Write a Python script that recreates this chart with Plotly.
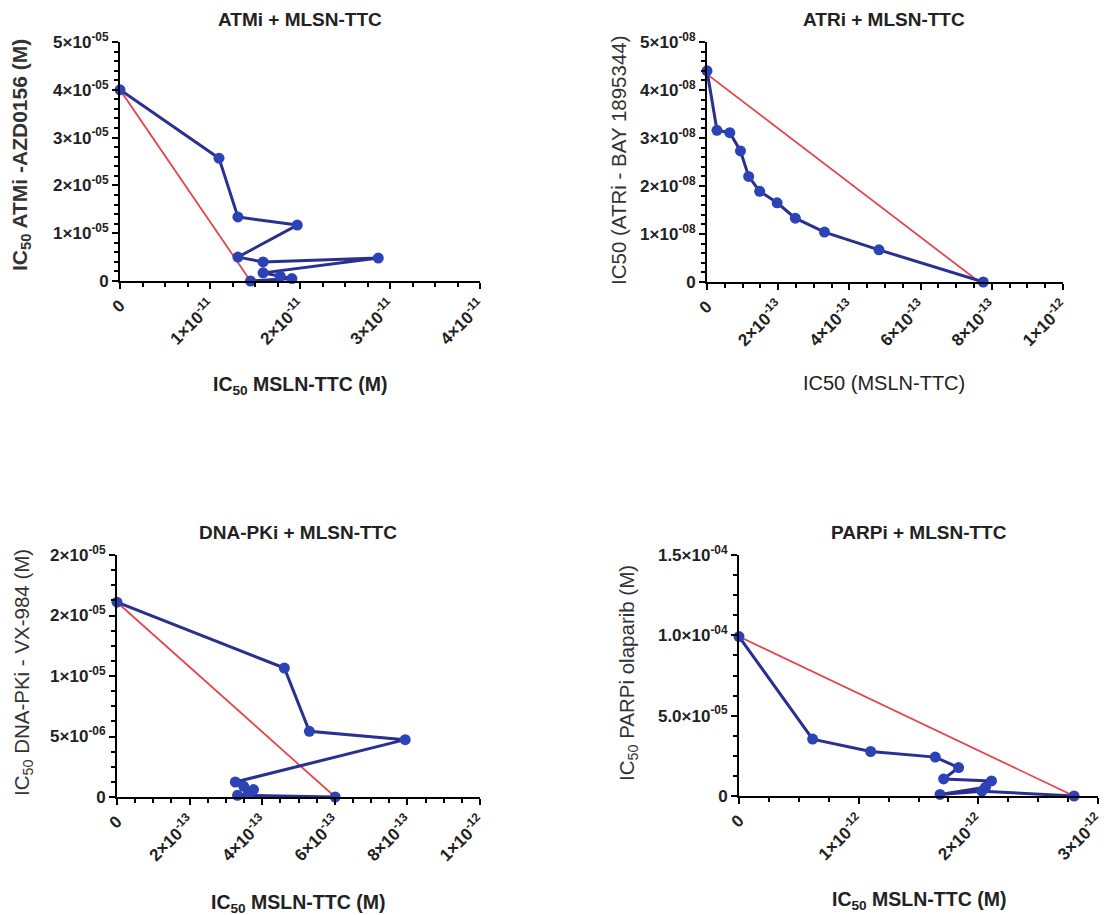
import plotly.graph_objects as go

# page offset (body margin) and figure size so that it fills the 1111x915 window
OFF = 8
W, H = 1111 - OFF, 915 - OFF

# ---------------- data ----------------
atm_x = [0, 1.10e-11, 1.31e-11, 1.97e-11, 1.31e-11, 1.59e-11, 2.87e-11, 1.59e-11, 1.78e-11, 1.91e-11, 1.45e-11]
atm_y = [4.0e-5, 2.57e-5, 1.34e-5, 1.17e-5, 0.50e-5, 0.40e-5, 0.48e-5, 0.17e-5, 0.10e-5, 0.05e-5, 0]
atm_add_x = [0, 1.45e-11]
atm_add_y = [4.0e-5, 0]

atr_x = [0, 0.28e-13, 0.64e-13, 0.94e-13, 1.17e-13, 1.48e-13, 1.97e-13, 2.48e-13, 3.30e-13, 4.83e-13, 7.76e-13]
atr_y = [4.40e-8, 3.16e-8, 3.11e-8, 2.73e-8, 2.20e-8, 1.89e-8, 1.65e-8, 1.33e-8, 1.04e-8, 0.67e-8, 0]
atr_add_x = [0, 7.65e-13]
atr_add_y = [4.33e-8, 0]

dna_x = [0, 4.61e-13, 5.30e-13, 7.94e-13, 3.26e-13, 3.49e-13, 3.76e-13, 3.62e-13, 3.32e-13, 6.01e-13]
dna_y = [1.61e-5, 1.066e-5, 0.543e-5, 0.474e-5, 0.124e-5, 0.088e-5, 0.061e-5, 0.028e-5, 0.014e-5, 0]
dna_add_x = [0, 6.01e-13]
dna_add_y = [1.61e-5, 0]

parp_x = [0, 0.615e-12, 1.10e-12, 1.64e-12, 1.835e-12, 1.71e-12, 2.11e-12, 2.06e-12, 1.68e-12, 2.03e-12, 2.80e-12]
parp_y = [9.92e-5, 3.54e-5, 2.77e-5, 2.42e-5, 1.77e-5, 1.06e-5, 0.94e-5, 0.55e-5, 0.10e-5, 0.30e-5, 0]
parp_add_x = [0, 2.80e-12]
parp_add_y = [9.92e-5, 0]

# tick values / labels
atm_xt = [0, 1e-11, 2e-11, 3e-11, 4e-11]
atm_xl = ["0", "1×10<sup>-11</sup>", "2×10<sup>-11</sup>", "3×10<sup>-11</sup>", "4×10<sup>-11</sup>"]
atm_yt = [0, 1e-5, 2e-5, 3e-5, 4e-5, 5e-5]
atm_yl = ["0", "1×10<sup>-05</sup>", "2×10<sup>-05</sup>", "3×10<sup>-05</sup>", "4×10<sup>-05</sup>", "5×10<sup>-05</sup>"]

atr_xt = [0, 2e-13, 4e-13, 6e-13, 8e-13, 1e-12]
atr_xl = ["0", "2×10<sup>-13</sup>", "4×10<sup>-13</sup>", "6×10<sup>-13</sup>", "8×10<sup>-13</sup>", "1×10<sup>-12</sup>"]
atr_yt = [0, 1e-8, 2e-8, 3e-8, 4e-8, 5e-8]
atr_yl = ["0", "1×10<sup>-08</sup>", "2×10<sup>-08</sup>", "3×10<sup>-08</sup>", "4×10<sup>-08</sup>", "5×10<sup>-08</sup>"]

dna_xt = [0, 2e-13, 4e-13, 6e-13, 8e-13, 1e-12]
dna_xl = ["0", "2×10<sup>-13</sup>", "4×10<sup>-13</sup>", "6×10<sup>-13</sup>", "8×10<sup>-13</sup>", "1×10<sup>-12</sup>"]
dna_yt = [0, 5e-6, 1e-5, 1.5e-5, 2e-5]
dna_yl = ["0", "5×10<sup>-06</sup>", "1×10<sup>-05</sup>", "2×10<sup>-05</sup>", "2×10<sup>-05</sup>"]

parp_xt = [0, 1e-12, 2e-12, 3e-12]
parp_xl = ["0", "1×10<sup>-12</sup>", "2×10<sup>-12</sup>", "3×10<sup>-12</sup>"]
parp_yt = [0, 5e-5, 1e-4, 1.5e-4]
parp_yl = ["0", "5.0×10<sup>-05</sup>", "1.0×10<sup>-04</sup>", "1.5×10<sup>-04</sup>"]

titles = ["ATMi + MLSN-TTC", "ATRi + MLSN-TTC", "DNA-PKi + MLSN-TTC", "PARPi + MLSN-TTC"]
xtitles = ["<b>IC<sub>50</sub> MSLN-TTC (M)</b>", "IC50 (MSLN-TTC)",
           "<b>IC<sub>50</sub> MSLN-TTC (M)</b>", "<b>IC<sub>50</sub> MSLN-TTC (M)</b>"]
ytitles = ["<b>IC<sub>50</sub> ATMi -AZD0156 (M)</b>", "IC50 (ATRi - BAY 1895344)",
           "IC<sub>50</sub> DNA-PKi - VX-984 (M)", "IC<sub>50</sub> PARPi olaparib (M)"]

# ---------------- figure ----------------
FONT = "Liberation Sans, Arial, sans-serif"
BLUE_LINE = "#2a2f90"
BLUE_MK = "#2c43b8"
RED = "#e2474d"


def px_x(p):
    return (p - OFF) / W


def px_y(p):
    return 1 - (p - OFF) / H


fig = go.Figure()

panels = [
    (atm_x, atm_y, atm_add_x, atm_add_y, atm_xt, atm_xl, atm_yt, atm_yl, [0, 4e-11], [0, 5e-5], 2.5e-12, 2e-6, (120, 480, 42, 281)),
    (atr_x, atr_y, atr_add_x, atr_add_y, atr_xt, atr_xl, atr_yt, atr_yl, [0, 1e-12], [0, 5e-8], 0.5e-13, 2e-9, (707, 1063, 42, 282)),
    (dna_x, dna_y, dna_add_x, dna_add_y, dna_xt, dna_xl, dna_yt, dna_yl, [0, 1e-12], [0, 2e-5], 0.5e-13, 1.25e-6, (117, 480, 555, 797)),
    (parp_x, parp_y, parp_add_x, parp_add_y, parp_xt, parp_xl, parp_yt, parp_yl, [0, 3e-12], [0, 1.5e-4], 0.25e-12, 1.25e-5, (739, 1098, 555, 796)),
]

title_pos = [(300, 19), (884, 19), (298, 532), (919, 532)]
xtitle_pos = [(300, 385), (884, 383), (298, 903), (919, 900)]
ytitle_pos = [(21, 155), (618, 160), (23, 673), (628, 673)]
ytitle_size = [21, 20.5, 20.5, 20.5]
xtitle_size = [19.5, 20, 19.5, 19.5]

annotations = []
for i, (xd, yd, ax_, ay_, xt, xl, yt, yl, xr, yr, xmin, ymin, box) in enumerate(panels):
    n = i + 1
    xa = "x" if n == 1 else f"x{n}"
    ya = "y" if n == 1 else f"y{n}"
    x0, x1, yt_px, yb_px = box
    fig.add_trace(go.Scatter(x=ax_, y=ay_, mode="lines", line=dict(color=RED, width=1.8),
                             xaxis=xa, yaxis=ya, showlegend=False, cliponaxis=False))
    fig.add_trace(go.Scatter(x=xd, y=yd, mode="lines+markers",
                             line=dict(color=BLUE_LINE, width=3),
                             marker=dict(color=BLUE_MK, size=11, line=dict(width=0)),
                             xaxis=xa, yaxis=ya, showlegend=False, cliponaxis=False))
    common = dict(showline=True, linecolor="black", linewidth=2, showgrid=False, zeroline=False,
                  ticks="outside", ticklen=6, tickwidth=2, tickcolor="black",
                  tickfont=dict(family=FONT, size=17, color="#222", weight="bold"),
                  tickmode="array", automargin=False)
    xaxis = dict(common, domain=[px_x(x0), px_x(x1)], range=xr, tickvals=xt, ticktext=xl,
                 tickangle=-45, anchor=ya,
                 minor=dict(tickmode="linear", tick0=0, dtick=xmin, ticks="outside", ticklen=4,
                            tickwidth=1.5, tickcolor="black"))
    yaxis = dict(common, domain=[px_y(yb_px), px_y(yt_px)], range=yr, tickvals=yt, ticktext=yl,
                 anchor=xa,
                 minor=dict(tickmode="linear", tick0=0, dtick=ymin, ticks="outside", ticklen=4,
                            tickwidth=1.5, tickcolor="black"))
    fig.update_layout(**{("xaxis" if n == 1 else f"xaxis{n}"): xaxis,
                         ("yaxis" if n == 1 else f"yaxis{n}"): yaxis})

    tx, ty = title_pos[i]
    annotations.append(dict(text=f"<b>{titles[i]}</b>", x=px_x(tx), y=px_y(ty), xref="paper", yref="paper",
                            xanchor="center", yanchor="middle", showarrow=False,
                            font=dict(family=FONT, size=19, color="#222")))
    xx, xy = xtitle_pos[i]
    annotations.append(dict(text=xtitles[i], x=px_x(xx), y=px_y(xy), xref="paper", yref="paper",
                            xanchor="center", yanchor="middle", showarrow=False,
                            font=dict(family=FONT, size=xtitle_size[i], color="#222")))
    yx, yy = ytitle_pos[i]
    annotations.append(dict(text=ytitles[i], x=px_x(yx), y=px_y(yy), xref="paper", yref="paper",
                            xanchor="center", yanchor="middle", showarrow=False, textangle=-90,
                            font=dict(family=FONT, size=ytitle_size[i], color="#333")))

fig.update_layout(width=W, height=H, margin=dict(l=0, r=0, t=0, b=0, autoexpand=False),
                  template="none",
                  paper_bgcolor="white", plot_bgcolor="white", annotations=annotations,
                  showlegend=False)

fig.write_html("out.html")
